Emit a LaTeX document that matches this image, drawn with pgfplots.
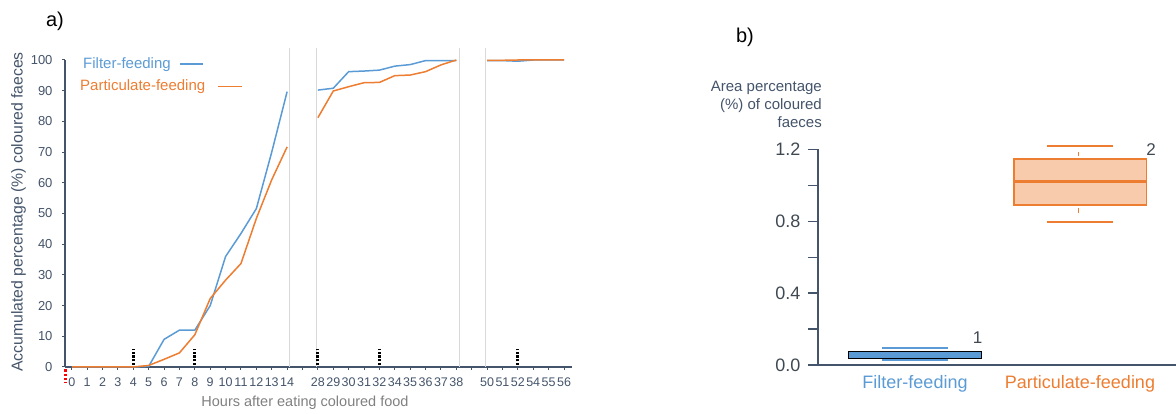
\documentclass[border=0pt]{standalone}
\usepackage{pgfplots}
\pgfplotsset{compat=1.18}
\usepackage{pgfplotstable}
\usepackage{fontspec}
\setmainfont{Liberation Sans}
\definecolor{fblue}{HTML}{5B9BD5}
\definecolor{forange}{HTML}{ED7D31}
\definecolor{slate}{HTML}{44546A}
\definecolor{lorange}{HTML}{F8CBAD}
\definecolor{sepgray}{HTML}{D9D9D9}
\definecolor{xgray}{HTML}{808080}
\definecolor{dgray}{HTML}{404852}

\pgfplotstableread{
x f p
0 0 0
1 0 0
2 0 0
3 0 0
4 0 0
5 0.2 0.5
6 9 2.5
7 12 4.6
8 12 10.5
9 20 22.3
10 36 28.3
11 43.5 33.7
12 51.6 48.4
13 70 61
14 89.7 71.7
15 nan nan
16 90.2 81.2
17 90.8 89.9
18 96.2 91.3
19 96.4 92.6
20 96.7 92.7
21 98 94.9
22 98.5 95.1
23 99.8 96.2
24 99.8 98.4
25 99.8 100
26 nan nan
27 99.8 99.9
28 99.8 99.9
29 99.6 100
30 100 100
31 100 100
32 100 100
}\feces

\tikzset{blkdot/.style={black, line width=3.2pt, dash pattern=on 2.4pt off 1.3pt}}

\begin{document}
\begin{tikzpicture}[x=1pt,y=1pt]
\useasboundingbox (0,0) rectangle (1176,414);
% ---------- panel a ----------
\begin{axis}[at={(65pt,47pt)}, anchor=south west, scale only axis,
  width=506.7pt, height=307pt,
  xmin=-0.44, xmax=32.5, ymin=0, ymax=100,
  axis x line=bottom, axis y line=left,
  axis line style={slate, line width=1.3pt, -},
  xtick={0,1,...,32},
  xticklabels={0,1,2,3,4,5,6,7,8,9,10,11,12,13,14,,28,29,30,31,32,34,35,36,37,38,,50,51,52,54,55,56},
  ytick={0,10,...,100},
  tick align=outside, major tick length=3pt,
  tick style={slate, line width=1pt},
  x tick label style={font=\fontsize{12.5}{12.5}\selectfont, text=slate, yshift=-4pt},
  y tick label style={font=\fontsize{13}{13}\selectfont, text=slate, xshift=-6pt},
  /pgf/number format/assume math mode=true,
  clip=false, unbounded coords=jump]
  % separators
  \draw[sepgray, line width=1pt] (axis cs:14.13,0) -- (axis cs:14.13,104);
  \draw[sepgray, line width=1pt] (axis cs:15.89,0) -- (axis cs:15.89,104);
  \draw[sepgray, line width=1pt] (axis cs:25.2,0) -- (axis cs:25.2,104);
  \draw[sepgray, line width=1pt] (axis cs:26.9,0) -- (axis cs:26.9,104);
  \addplot[fblue, line width=1.5pt] table[x=x, y=f] {\feces};
  \addplot[forange, line width=1.5pt] table[x=x, y=p] {\feces};
  % dotted markers
  \draw[blkdot] (axis cs:4,0.6) -- (axis cs:4,5.8);
  \draw[blkdot] (axis cs:8,0.6) -- (axis cs:8,5.8);
  \draw[blkdot] (axis cs:16,0.6) -- (axis cs:16,5.8);
  \draw[blkdot] (axis cs:20,0.6) -- (axis cs:20,5.8);
  \draw[blkdot] (axis cs:29,0.6) -- (axis cs:29,5.8);
  \draw[red, line width=3pt, dash pattern=on 2.4pt off 1.8pt] (axis cs:-0.44,-0.8) -- (axis cs:-0.44,-5.2);
\end{axis}
% legend of panel a
\node[anchor=west, inner sep=0, text=fblue, font=\fontsize{15}{15}\selectfont] at (83,349) {Filter-feeding};
\draw[fblue, line width=1.5pt] (180,350) -- (203,350);
\node[anchor=west, inner sep=0, text=forange, font=\fontsize{15}{15}\selectfont] at (80,327) {Particulate-feeding};
\draw[forange, line width=1.5pt] (218,327.3) -- (242,327.3);
% axis titles panel a
\node[rotate=90, text=slate, font=\fontsize{15.8}{15.8}\selectfont] at (18.5,202) {Accumulated percentage (\%) coloured faeces};
\node[text=xgray, font=\fontsize{14.5}{14.5}\selectfont] at (305,11) {Hours after eating coloured food};
\node[font=\fontsize{20}{20}\selectfont] at (55,393) {a)};
\node[font=\fontsize{20}{20}\selectfont] at (745,377) {b)};
% ---------- panel b ----------
\begin{axis}[at={(818pt,49pt)}, anchor=south west, scale only axis,
  width=358pt, height=215.7pt,
  xmin=0.412, xmax=2.582, ymin=0, ymax=1.2,
  axis x line=bottom, axis y line=left,
  axis line style={slate, line width=1.3pt, -},
  xtick={1,2},
  xticklabels={\textcolor{fblue}{Filter-feeding},\textcolor{forange}{Particulate-feeding}},
  x tick style={draw=none},
  ytick={0,0.2,0.4,0.6,0.8,1.0,1.2},
  yticklabels={0.0,,0.4,,0.8,,1.2},
  tick align=outside, major tick length=10pt,
  y tick style={slate, line width=1.2pt},
  y tick label style={font=\fontsize{18}{18}\selectfont, text=dgray, xshift=-4pt},
  x tick label style={font=\fontsize{18}{18}\selectfont, yshift=3pt},
  clip=false]
  % filter-feeding box
  \addplot[draw=black, line width=1.3pt, fill=fblue] coordinates {(0.595,0.037) (1.404,0.037) (1.404,0.074) (0.595,0.074)} -- cycle;
  \addplot[color=fblue, line width=1.7pt] coordinates {(0.8,0.096) (1.2,0.096)};
  \addplot[color=fblue, line width=1.7pt] coordinates {(0.8,0.028) (1.2,0.028)};
  % particulate-feeding box
  \addplot[draw=forange, line width=1.4pt, fill=lorange] coordinates {(1.6,0.89) (2.404,0.89) (2.404,1.146) (1.6,1.146)} -- cycle;
  \addplot[color=forange, line width=2.6pt] coordinates {(1.6,1.02) (2.404,1.02)};
  \addplot[color=forange, line width=1.7pt] coordinates {(1.8,1.218) (2.2,1.218)};
  \addplot[color=forange, line width=1.7pt] coordinates {(1.8,0.797) (2.2,0.797)};
  \addplot[color=forange, line width=1.5pt] coordinates {(1.99,1.163) (1.99,1.186)};
  \addplot[color=forange, line width=1.5pt] coordinates {(1.99,0.847) (1.99,0.872)};
\end{axis}
\node[text=dgray, font=\fontsize{17}{17}\selectfont] at (977.7,76) {1};
\node[text=dgray, font=\fontsize{17}{17}\selectfont] at (1151,264) {2};
\node[anchor=north east, align=right, inner sep=0, text=slate, font=\fontsize{15}{18}\selectfont] at (822,333) {Area percentage\\(\%) of coloured\\faeces};
\end{tikzpicture}
\end{document}
